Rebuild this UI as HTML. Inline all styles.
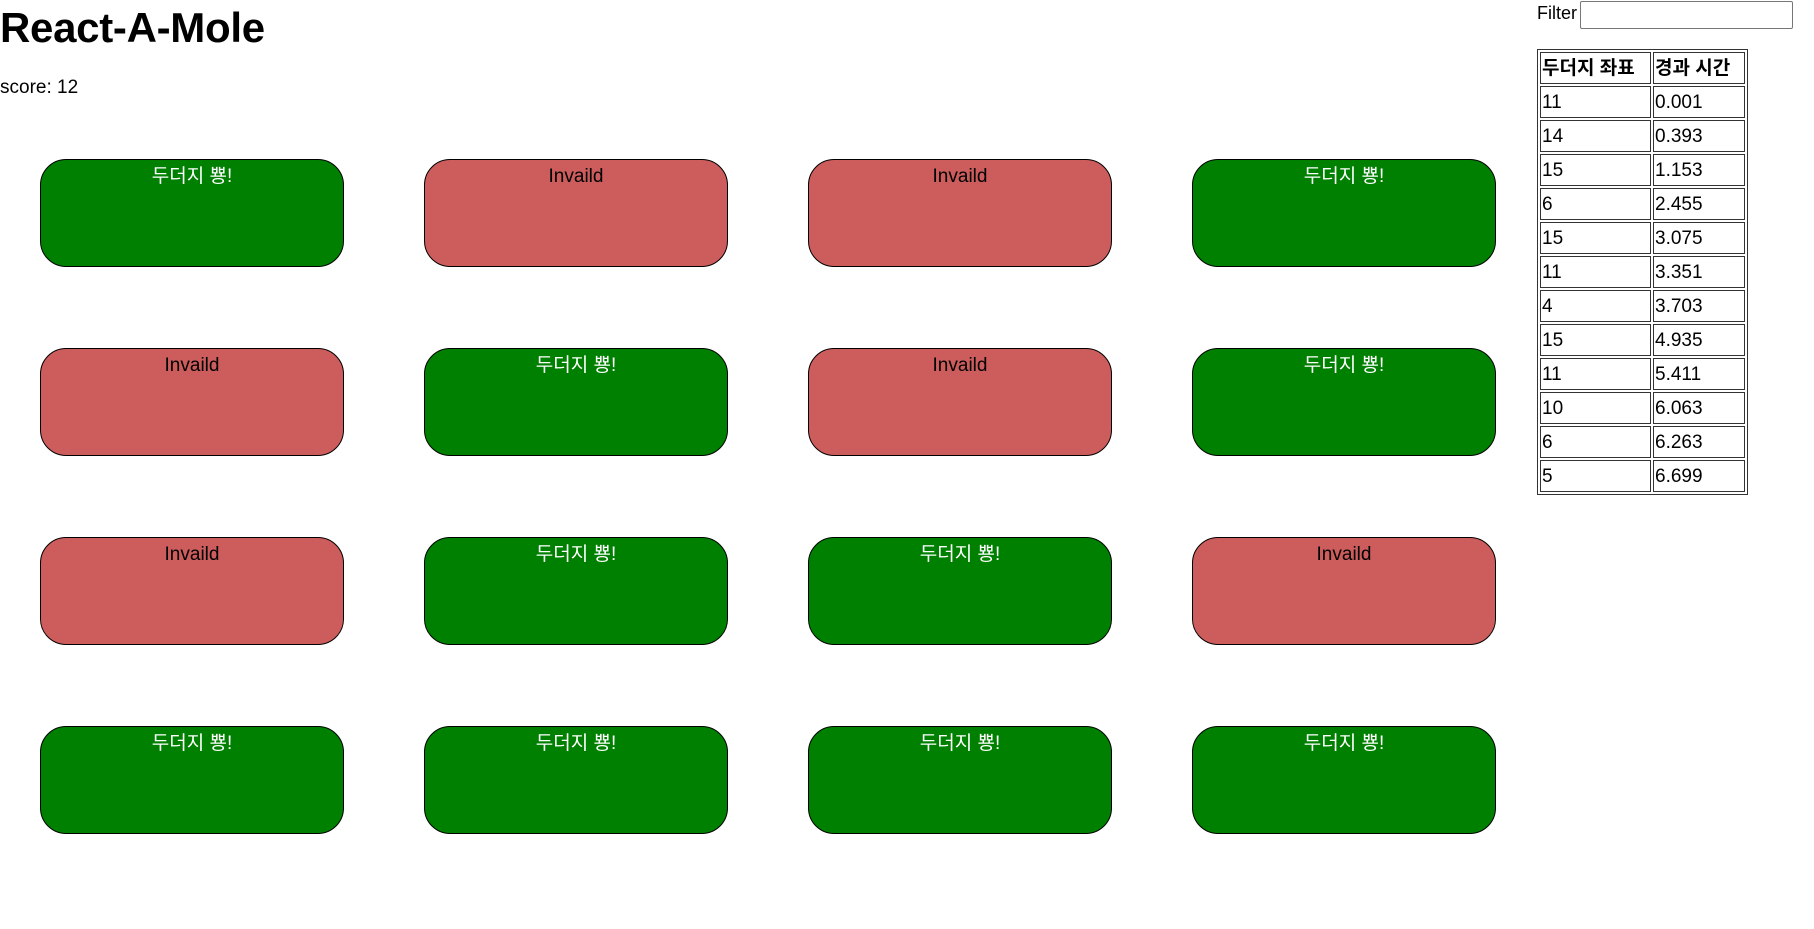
<!DOCTYPE html>
<html><head><meta charset="utf-8"><style>
body{margin:0;width:1814px;height:929px;background:#fff;font-family:"Liberation Sans","Noto Sans CJK KR",sans-serif;color:#000;position:relative;overflow:hidden}
h1{position:absolute;left:0;top:4px;margin:0;font-size:42px;font-weight:bold;letter-spacing:-0.3px}
.score{position:absolute;left:0;top:77px;font-size:19px}
.b{position:absolute;width:302px;border:1px solid #000;border-radius:26px;text-align:center;font-size:19px;line-height:22px;padding-top:6px;box-sizing:content-box;height:100px}
.g{background:#008000;color:#fff}
.r{background:#cd5c5c;color:#000}
.f{position:absolute;left:1537px;top:3px;font-size:18px}
.inp{position:absolute;left:1580px;top:1px;width:211px;height:26px;border:1px solid #777;border-radius:2px}
table{position:absolute;left:1537px;top:49px;border:1px solid #333;border-spacing:2px;font-size:19px}
td,th{border:1px solid #333;padding:2px 1px 0 1px;text-align:left;line-height:28px;box-sizing:border-box;height:32px}
th{font-weight:bold}
td.a{width:111px}td.c{width:92px}
</style></head><body>
<h1>React-A-Mole</h1>
<div class="score">score: 12</div>
<div class="b g" style="left:40px;top:159px">두더지 뿅!</div>
<div class="b r" style="left:424px;top:159px">Invaild</div>
<div class="b r" style="left:808px;top:159px">Invaild</div>
<div class="b g" style="left:1192px;top:159px">두더지 뿅!</div>
<div class="b r" style="left:40px;top:348px">Invaild</div>
<div class="b g" style="left:424px;top:348px">두더지 뿅!</div>
<div class="b r" style="left:808px;top:348px">Invaild</div>
<div class="b g" style="left:1192px;top:348px">두더지 뿅!</div>
<div class="b r" style="left:40px;top:537px">Invaild</div>
<div class="b g" style="left:424px;top:537px">두더지 뿅!</div>
<div class="b g" style="left:808px;top:537px">두더지 뿅!</div>
<div class="b r" style="left:1192px;top:537px">Invaild</div>
<div class="b g" style="left:40px;top:726px">두더지 뿅!</div>
<div class="b g" style="left:424px;top:726px">두더지 뿅!</div>
<div class="b g" style="left:808px;top:726px">두더지 뿅!</div>
<div class="b g" style="left:1192px;top:726px">두더지 뿅!</div>
<div class="f">Filter</div><div class="inp"></div>
<table>
<tr><th>두더지 좌표</th><th>경과 시간</th></tr>
<tr><td class="a">11</td><td class="c">0.001</td></tr>
<tr><td>14</td><td>0.393</td></tr>
<tr><td>15</td><td>1.153</td></tr>
<tr><td>6</td><td>2.455</td></tr>
<tr><td>15</td><td>3.075</td></tr>
<tr><td>11</td><td>3.351</td></tr>
<tr><td>4</td><td>3.703</td></tr>
<tr><td>15</td><td>4.935</td></tr>
<tr><td>11</td><td>5.411</td></tr>
<tr><td>10</td><td>6.063</td></tr>
<tr><td>6</td><td>6.263</td></tr>
<tr><td>5</td><td>6.699</td></tr>
</table>
</body></html>
